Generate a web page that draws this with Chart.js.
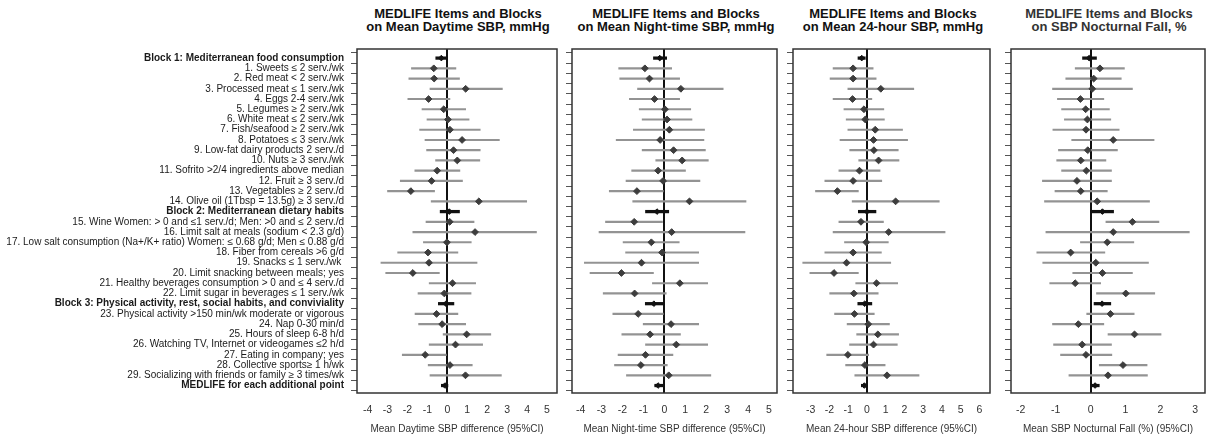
<!DOCTYPE html>
<html>
<head>
<meta charset="utf-8">
<script src="https://cdn.jsdelivr.net/npm/chart.js@4.4.1/dist/chart.umd.min.js"></script>
<style>
  body { margin: 0; background: #fff; width: 1210px; height: 440px; overflow: hidden; position: relative; font-family: "Liberation Sans", Arial, sans-serif; }
  .panel { position: absolute; top: 40px; height: 400px; }
  .title { position: absolute; top: 7px; width: 260px; text-align: center; font: bold 13px/13px "Liberation Sans", Arial, sans-serif; color: #111; }
</style>
</head>
<body>
<div class="title" style="left:328px">MEDLIFE Items and Blocks<br>on Mean Daytime SBP, mmHg</div>
<div class="title" style="left:546px">MEDLIFE Items and Blocks<br>on Mean Night-time SBP, mmHg</div>
<div class="title" style="left:763px">MEDLIFE Items and Blocks<br>on Mean 24-hour SBP, mmHg</div>
<div class="title" style="left:979px;color:#333">MEDLIFE Items and Blocks<br>on SBP Nocturnal Fall, %</div>

<div class="panel" style="left:0;width:562px"><canvas id="c-day"></canvas></div>
<div class="panel" style="left:562px;width:220px"><canvas id="c-night"></canvas></div>
<div class="panel" style="left:782px;width:213px"><canvas id="c-24h"></canvas></div>
<div class="panel" style="left:995px;width:215px"><canvas id="c-fall"></canvas></div>

<script>
const rowLabels = [
  "Block 1: Mediterranean food consumption",
  "1. Sweets ≤ 2 serv./wk",
  "2. Red meat < 2 serv./wk",
  "3. Processed meat ≤ 1 serv./wk",
  "4. Eggs 2-4 serv./wk",
  "5. Legumes ≥ 2 serv./wk",
  "6. White meat ≤ 2 serv./wk",
  "7. Fish/seafood ≥ 2 serv./wk",
  "8. Potatoes ≤ 3 serv./wk",
  "9. Low-fat dairy products 2 serv./d",
  "10. Nuts ≥ 3 serv./wk",
  "11. Sofrito >2/4 ingredients above median",
  "12. Fruit ≥ 3 serv./d",
  "13. Vegetables ≥ 2 serv./d",
  "14. Olive oil (1Tbsp = 13.5g) ≥ 3 serv./d",
  "Block 2: Mediterranean dietary habits",
  "15. Wine Women: > 0 and ≤1 serv./d; Men: >0 and ≤ 2 serv./d",
  "16. Limit salt at meals (sodium < 2.3 g/d)",
  "17. Low salt consumption (Na+/K+ ratio) Women: ≤ 0.68 g/d; Men ≤ 0.88 g/d",
  "18. Fiber from cereals >6 g/d",
  "19. Snacks ≤ 1 serv./wk ",
  "20. Limit snacking between meals; yes",
  "21. Healthy beverages consumption > 0 and ≤ 4 serv./d",
  "22. Limit sugar in beverages ≤ 1 serv./wk",
  "Block 3: Physical activity, rest, social habits, and conviviality",
  "23. Physical activity >150 min/wk moderate or vigorous",
  "24. Nap 0-30 min/d",
  "25. Hours of sleep 6-8 h/d",
  "26. Watching TV, Internet or videogames ≤2 h/d",
  "27. Eating in company; yes",
  "28. Collective sports≥ 1 h/wk",
  "29. Socializing with friends or family ≥ 3 times/wk",
  "MEDLIFE for each additional point"
];
const blockRows = [0, 15, 24, 32];

// Mean daytime SBP
const dayEst = [-0.3,-0.68,-0.66,0.92,-0.94,-0.18,0.03,0.13,0.74,0.31,0.5,-0.51,-0.79,-1.83,1.58,0.1,0.12,1.39,-0.02,-0.97,-0.92,-1.73,0.26,-0.15,-0.07,-0.54,-0.26,0.97,0.41,-1.11,0.13,0.91,-0.12];
const dayLo  = [-0.58,-1.8,-1.93,-0.87,-1.98,-1.27,-1.02,-1.39,-1.12,-1.04,-0.59,-1.63,-2.36,-3.0,-0.81,-0.36,-1.07,-1.73,-1.2,-2.49,-3.33,-3.09,-0.91,-1.47,-0.45,-1.62,-1.44,-0.21,-0.91,-2.26,-0.96,-0.87,-0.3];
const dayHi  = [-0.02,0.43,0.61,2.76,0.13,0.92,1.09,1.65,2.61,1.65,1.63,0.63,0.76,-0.64,3.98,0.61,1.34,4.47,1.2,0.53,1.49,-0.4,1.42,1.19,0.33,0.53,0.92,2.18,1.77,0.0,1.25,2.71,0.03];

// Mean night-time SBP
const nightEst = [-0.22,-0.93,-0.71,0.79,-0.47,0.03,0.13,0.24,-0.2,0.44,0.85,-0.3,-0.06,-1.31,1.2,-0.35,-1.44,0.35,-0.62,-0.11,-1.09,-2.05,0.74,-1.42,-0.5,-1.25,0.32,-0.68,0.57,-0.9,-1.12,0.21,-0.3];
const nightLo  = [-0.52,-2.18,-2.13,-1.28,-1.67,-1.2,-1.06,-1.48,-2.3,-1.06,-0.41,-1.56,-1.83,-2.63,-1.51,-0.9,-2.81,-3.12,-1.97,-1.85,-3.82,-3.55,-0.57,-2.92,-0.91,-2.46,-1.01,-2.03,-0.9,-2.21,-2.38,-1.81,-0.46];
const nightHi  = [0.11,0.35,0.73,2.81,0.73,1.26,1.32,1.92,1.89,1.96,2.1,1.01,1.7,0.0,3.9,0.21,-0.09,3.85,0.71,1.64,1.64,-0.52,2.07,0.09,-0.08,0.0,1.64,0.77,2.07,0.41,0.14,2.22,-0.08];

// Mean 24-hour SBP
const h24Est = [-0.28,-0.74,-0.74,0.74,-0.77,-0.16,-0.09,0.44,0.35,0.37,0.62,-0.4,-0.74,-1.58,1.53,0.0,-0.32,1.16,-0.04,-0.74,-1.09,-1.76,0.51,-0.7,-0.12,-0.67,0.07,0.58,0.35,-1.02,-0.11,1.07,-0.14];
const h24Lo  = [-0.48,-1.81,-1.97,-1.02,-1.81,-1.23,-1.11,-1.02,-1.44,-0.92,-0.44,-1.5,-2.25,-2.75,-0.79,-0.46,-1.5,-1.81,-1.2,-2.25,-3.43,-3.05,-0.6,-1.99,-0.49,-1.73,-1.06,-0.55,-0.93,-2.15,-1.14,-0.65,-0.3];
const h24Hi  = [-0.09,0.33,0.49,2.5,0.26,0.9,0.93,1.9,2.17,1.67,1.71,0.7,0.79,-0.46,3.86,0.48,0.88,4.17,1.14,0.77,1.27,-0.46,1.64,0.6,0.26,0.39,1.2,1.69,1.62,0.09,0.97,2.78,0.0];

// SBP nocturnal fall, %
const fallEst = [-0.04,0.27,0.09,0.05,-0.29,-0.14,-0.09,-0.13,0.65,-0.08,-0.28,-0.12,-0.39,-0.28,0.19,0.34,1.2,0.65,0.48,-0.57,0.15,0.34,-0.44,1.01,0.33,0.57,-0.35,1.26,-0.24,-0.13,0.93,0.5,0.13];
const fallLo  = [-0.23,-0.44,-0.71,-1.09,-0.95,-0.83,-0.75,-1.08,-0.54,-0.92,-0.97,-0.83,-1.38,-1.02,-1.32,0.03,0.44,-1.28,-0.29,-1.54,-1.37,-0.51,-1.17,0.17,0.1,-0.11,-1.09,0.5,-1.06,-0.86,0.25,-0.62,0.03];
const fallHi  = [0.17,0.97,0.88,1.2,0.38,0.54,0.58,0.82,1.82,0.77,0.44,0.6,0.6,0.48,1.69,0.66,1.96,2.83,1.24,0.41,1.66,1.2,0.29,1.84,0.58,1.25,0.38,2.02,0.6,0.61,1.62,1.63,0.25];

const dayTicks = [-4, -3, -2, -1, 0, 1, 2, 3, 4, 5];
const nightTicks = [-4, -3, -2, -1, 0, 1, 2, 3, 4, 5];
const h24Ticks = [-3, -2, -1, 0, 1, 2, 3, 4, 5, 6];
const fallTicks = [-2, -1, 0, 1, 2, 3];

const FONT = '"Liberation Sans", Arial, sans-serif';
const isBlock = i => blockRows.includes(i);

// frame round the plot area
const boxPlugin = {
    id: 'box',
    afterDraw(chart) {
        const a = chart.chartArea, ctx = chart.ctx;
        ctx.save();
        ctx.strokeStyle = '#333';
        ctx.lineWidth = 1.5;
        ctx.strokeRect(a.left, a.top, a.right - a.left, a.bottom - a.top);
        ctx.restore();
    }
};

function make_panel(id, est, lo, hi, ticks, xmin, xmax, xTitle, yWidth, showLabels) {
    const rows = est.map((_, i) => i);
    const itemRows = rows.filter(i => !isBlock(i));
    const blkRows = rows.filter(i => isBlock(i));

    new Chart(document.getElementById(id), {
        type: 'bar',
        data: {
            datasets: [
                {
                    data: itemRows.map(i => ({ y: i, x: [lo[i], hi[i]] })),
                    backgroundColor: '#939393',
                    barThickness: 1.5,
                    grouped: false,
                    indexAxis: 'y',
                    order: 3
                },
                {
                    data: blkRows.map(i => ({ y: i, x: [lo[i], hi[i]] })),
                    backgroundColor: '#111',
                    barThickness: 2.6,
                    grouped: false,
                    indexAxis: 'y',
                    order: 2
                },
                {
                    type: 'scatter',
                    data: itemRows.map(i => ({ x: est[i], y: i })),
                    pointStyle: 'rectRot',
                    pointRadius: 3.4,
                    backgroundColor: '#3d3d3d',
                    borderColor: '#3d3d3d',
                    borderWidth: 1,
                    order: 1
                },
                {
                    type: 'scatter',
                    data: blkRows.map(i => ({ x: est[i], y: i })),
                    pointStyle: 'rectRot',
                    pointRadius: 2.8,
                    backgroundColor: '#111',
                    borderColor: '#111',
                    borderWidth: 1,
                    order: 0
                }
            ]
        },
        options: {
            indexAxis: 'y',
            responsive: true,
            maintainAspectRatio: false,
            animation: false,
            layout: { padding: { top: 9, right: 3, bottom: 0, left: 0 } },
            plugins: { legend: { display: false }, tooltip: { enabled: false } },
            scales: {
                x: {
                    type: 'linear',
                    position: 'bottom',
                    min: xmin,
                    max: xmax,
                    afterBuildTicks: s => { s.ticks = ticks.map(v => ({ value: v })); },
                    afterFit: s => { s.height = 47; s.paddingLeft = 0; s.paddingRight = 0; },
                    ticks: { color: '#333', font: { family: FONT, size: 10.5 }, padding: 11, maxRotation: 0 },
                    grid: {
                        drawTicks: false,
                        lineWidth: 2,
                        color: c => (c.tick && c.tick.value === 0) ? '#111' : 'rgba(0,0,0,0)'
                    },
                    border: { display: false },
                    title: { display: true, text: xTitle, color: '#333', font: { family: FONT, size: 10 }, padding: { top: 0, bottom: 5 } }
                },
                y: {
                    type: 'linear',
                    reverse: true,
                    min: -0.38,
                    max: 32.22,
                    afterBuildTicks: s => { s.ticks = rowLabels.map((_, i) => ({ value: i })); },
                    afterFit: s => { s.width = yWidth; s.paddingTop = 0; s.paddingBottom = 0; },
                    ticks: {
                        autoSkip: false,
                        padding: 7,
                        color: '#1a1a1a',
                        callback: v => showLabels ? rowLabels[v] : '',
                        font: c => ({ family: FONT, size: 10, weight: (c.tick && isBlock(c.tick.value)) ? 'bold' : 'normal' })
                    },
                    grid: { drawOnChartArea: false, drawTicks: true, tickLength: 6, color: '#555' },
                    border: { display: false }
                }
            }
        },
        plugins: [boxPlugin]
    });
}

make_panel('c-day', dayEst, dayLo, dayHi, dayTicks, -4.53, 5.5, 'Mean Daytime SBP difference (95%CI)', 357, true);
make_panel('c-night', nightEst, nightLo, nightHi, nightTicks, -4.41, 5.38, 'Mean Night-time SBP difference (95%CI)', 10, false);
make_panel('c-24h', h24Est, h24Lo, h24Hi, h24Ticks, -3.95, 6.57, 'Mean 24-hour SBP difference (95%CI)', 11, false);
make_panel('c-fall', fallEst, fallLo, fallHi, fallTicks, -2.28, 3.28, 'Mean SBP Nocturnal Fall (%) (95%CI)', 16, false);
</script>
</body>
</html>
